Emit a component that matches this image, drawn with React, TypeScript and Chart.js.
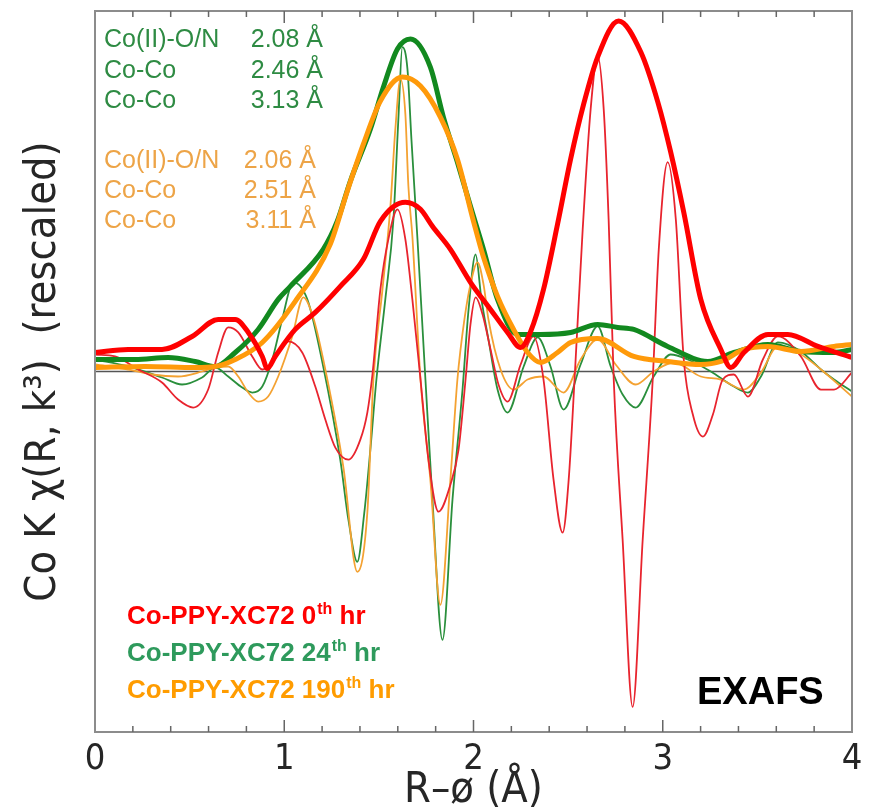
import React, { useEffect, useRef } from "react";
import { Chart, registerables } from "chart.js";

Chart.register(...registerables);

// ---- Data (R in Å, χ in rescaled arbitrary units) ----
// |χ(R)| magnitude, 0th hr (thick red)
const R_MAG_0H = [0, 0.175, 0.354, 0.513, 0.651, 0.741, 0.81, 0.884, 0.91, 0.952, 1.058, 1.164, 1.296, 1.418, 1.508, 1.64, 1.72, 1.783, 1.878, 1.984, 2.09, 2.18, 2.249, 2.302, 2.37, 2.444, 2.513, 2.582, 2.656, 2.767, 2.884, 2.974, 3.042, 3.111, 3.201, 3.307, 3.36, 3.429, 3.556, 3.661, 3.82, 4.0];
const MAG_0H = [0.19, 0.22, 0.22, 0.35, 0.52, 0.52, 0.39, 0.15, 0.03, 0.15, 0.42, 0.59, 0.85, 1.12, 1.5, 1.69, 1.62, 1.45, 1.22, 0.89, 0.62, 0.39, 0.24, 0.4, 0.82, 1.47, 2.12, 2.67, 3.14, 3.5, 3.19, 2.69, 2.19, 1.59, 0.72, 0.22, 0.04, 0.19, 0.37, 0.37, 0.25, 0.14];

// |χ(R)| magnitude, 24th hr (thick green)
const R_MAG_24H = [0, 0.212, 0.386, 0.529, 0.635, 0.741, 0.862, 0.968, 1.032, 1.206, 1.28, 1.349, 1.455, 1.524, 1.598, 1.667, 1.772, 1.841, 1.915, 1.984, 2.053, 2.127, 2.233, 2.354, 2.513, 2.656, 2.762, 2.847, 3.026, 3.238, 3.376, 3.556, 3.73, 3.905, 4.0];
const MAG_24H = [0.12, 0.12, 0.14, 0.1, 0.05, 0.19, 0.42, 0.72, 0.85, 1.22, 1.5, 1.9, 2.42, 2.84, 3.22, 3.32, 3.04, 2.54, 2.09, 1.65, 1.22, 0.72, 0.37, 0.37, 0.39, 0.47, 0.44, 0.42, 0.25, 0.1, 0.19, 0.27, 0.2, 0.19, 0.22];

// |χ(R)| magnitude, 190th hr (thick orange)
const R_MAG_190H = [0, 0.265, 0.529, 0.635, 0.741, 0.884, 1.058, 1.243, 1.333, 1.418, 1.508, 1.624, 1.72, 1.825, 1.915, 2.0, 2.053, 2.127, 2.212, 2.286, 2.354, 2.444, 2.513, 2.656, 2.847, 3.026, 3.201, 3.307, 3.429, 3.556, 3.73, 3.905, 4.0];
const MAG_190H = [0.04, 0.05, 0.04, 0.05, 0.12, 0.29, 0.7, 1.27, 1.8, 2.27, 2.7, 2.94, 2.85, 2.54, 2.12, 1.5, 1.14, 0.75, 0.42, 0.19, 0.09, 0.19, 0.29, 0.33, 0.15, 0.1, 0.07, 0.1, 0.22, 0.25, 0.2, 0.25, 0.27];

// Re χ(R), 0th hr (thin red)
const R_RE_0H = [0, 0.106, 0.228, 0.354, 0.439, 0.519, 0.598, 0.651, 0.704, 0.757, 0.831, 0.884, 0.937, 1.021, 1.095, 1.164, 1.217, 1.27, 1.339, 1.402, 1.439, 1.466, 1.508, 1.55, 1.598, 1.64, 1.677, 1.72, 1.762, 1.815, 1.878, 1.921, 1.958, 1.984, 2.011, 2.048, 2.09, 2.132, 2.18, 2.249, 2.317, 2.37, 2.423, 2.471, 2.503, 2.534, 2.577, 2.619, 2.656, 2.688, 2.714, 2.741, 2.788, 2.841, 2.894, 2.947, 2.979, 3.026, 3.069, 3.111, 3.159, 3.212, 3.265, 3.317, 3.376, 3.45, 3.529, 3.608, 3.73, 3.836, 3.905, 4.0];
const RE_0H = [0.17, 0.15, 0.02, -0.11, -0.28, -0.36, -0.18, 0.19, 0.44, 0.39, 0.15, 0.02, 0.09, 0.3, 0.19, -0.15, -0.48, -0.76, -0.88, -0.68, -0.41, -0.03, 0.82, 1.32, 1.62, 1.32, 0.72, -0.08, -0.88, -1.4, -1.13, -0.78, -0.08, 0.47, 0.74, 0.57, 0.22, -0.13, -0.3, 0.07, 0.35, -0.08, -1.08, -1.61, -1.08, -0.08, 1.42, 2.62, 3.15, 2.62, 1.52, -0.08, -1.68, -3.35, -1.68, -0.08, 1.22, 2.09, 1.52, 0.12, -0.43, -0.65, -0.43, -0.08, -0.03, -0.25, 0.12, 0.35, 0.15, -0.18, -0.18, -0.01];

// Re χ(R), 24th hr (thin green)
const R_RE_24H = [0, 0.175, 0.354, 0.46, 0.566, 0.635, 0.704, 0.778, 0.831, 0.884, 0.937, 0.989, 1.048, 1.122, 1.206, 1.296, 1.339, 1.386, 1.423, 1.455, 1.487, 1.534, 1.577, 1.603, 1.624, 1.651, 1.672, 1.704, 1.746, 1.783, 1.836, 1.889, 1.942, 1.974, 2.011, 2.042, 2.079, 2.127, 2.18, 2.265, 2.339, 2.407, 2.476, 2.566, 2.656, 2.725, 2.788, 2.857, 2.952, 3.042, 3.132, 3.254, 3.376, 3.45, 3.519, 3.608, 3.73, 3.836, 3.905, 4.0];
const RE_24H = [0.12, 0.05, -0.06, -0.13, -0.06, 0.04, -0.05, -0.16, -0.21, -0.15, 0.12, 0.52, 0.89, 0.72, 0.05, -0.88, -1.48, -1.9, -1.41, -0.78, -0.08, 0.72, 1.52, 2.52, 3.24, 3.02, 2.32, 1.32, -0.08, -1.28, -2.68, -1.28, -0.18, 0.62, 1.17, 0.72, 0.32, -0.18, -0.41, 0.05, 0.34, 0.05, -0.38, 0.07, 0.45, 0.05, -0.23, -0.36, -0.05, 0.17, 0.12, 0.0, -0.15, -0.21, -0.05, 0.29, 0.2, 0.02, -0.08, -0.2];

// Re χ(R), 190th hr (thin orange)
const R_RE_190H = [0, 0.175, 0.302, 0.439, 0.566, 0.635, 0.704, 0.757, 0.81, 0.862, 0.915, 0.968, 1.042, 1.101, 1.153, 1.206, 1.312, 1.386, 1.439, 1.471, 1.519, 1.561, 1.587, 1.614, 1.64, 1.656, 1.677, 1.72, 1.772, 1.825, 1.878, 1.915, 1.952, 1.984, 2.021, 2.053, 2.079, 2.143, 2.212, 2.286, 2.37, 2.476, 2.566, 2.656, 2.751, 2.857, 2.952, 3.058, 3.201, 3.307, 3.429, 3.519, 3.608, 3.73, 3.836, 4.0];
const RE_190H = [0.07, 0.02, -0.03, -0.05, 0.0, 0.04, 0.05, -0.05, -0.21, -0.3, -0.25, -0.05, 0.35, 0.74, 0.54, 0.12, -0.95, -2.0, -1.41, -0.08, 0.82, 1.65, 2.42, 2.92, 2.57, 1.85, 1.35, -0.08, -1.08, -2.33, -1.08, -0.08, 0.52, 0.87, 1.09, 0.87, 0.52, 0.02, -0.18, -0.08, -0.05, -0.21, 0.12, 0.32, 0.07, -0.13, 0.0, 0.09, -0.05, -0.08, -0.18, -0.01, 0.25, 0.17, 0.02, -0.25];

// ---- Axes / text ----
const X_MIN = 0;
const X_MAX = 4;
const Y_MIN = -3.6;
const Y_MAX = 3.6;
const X_MAJOR_STEP = 1;
const X_MINOR_STEP = 0.2;
const X_TITLE = "R\u2013\u00f8 (\u00c5)";
const Y_TITLE = "Co K \u03c7(R, k\u00b3)  (rescaled)";

const FIT_LABELS = ["Co(II)-O/N", "Co-Co", "Co-Co"];
const FIT_24H = ["2.08 \u00c5", "2.46 \u00c5", "3.13 \u00c5"];
const FIT_190H = ["2.06 \u00c5", "2.51 \u00c5", "3.11 \u00c5"];

const SAMPLE_NAME = "Co-PPY-XC72";
const SAMPLE_HOURS = ["0", "24", "190"];
const HOUR_SUFFIX = "th";
const HOUR_UNIT = "hr";
const PANEL_LABEL = "EXAFS";

// ---- Styles ----
const RED = "#ff0000";
const RED_THIN = "#e8242e";
const GREEN = "#12891f";
const GREEN_THIN = "#2a8f3c";
const ORANGE = "#ff9a0a";
const ORANGE_THIN = "#f4a232";
const GREEN_TEXT = "#2e8b43";
const ORANGE_TEXT = "#eda447";
const LEGEND_COLORS = ["#ff0000", "#2e9a5c", "#ff9c00"];
const AXIS_FONT = "'DejaVu Sans Condensed', sans-serif";
const TEXT_FONT = "'Liberation Sans', Arial, sans-serif";

const pts = (xs: number[], ys: number[]) => xs.map((x, i) => ({ x, y: ys[i] }));

const decorPlugin = {
  id: "decor",
  beforeDatasetsDraw(chart: any) {
    const { ctx, chartArea } = chart;
    const y0 = chart.scales.y.getPixelForValue(0);
    ctx.save();
    ctx.strokeStyle = "#555";
    ctx.lineWidth = 1.3;
    ctx.beginPath();
    ctx.moveTo(chartArea.left, y0);
    ctx.lineTo(chartArea.right, y0);
    ctx.stroke();
    ctx.restore();
  },
  afterDatasetsDraw(chart: any) {
    const { ctx, chartArea } = chart;
    const xs = chart.scales.x;
    const { left, right, top, bottom } = chartArea;
    ctx.save();
    // frame
    ctx.strokeStyle = "#8c8c8c";
    ctx.lineWidth = 2;
    ctx.strokeRect(left, top, right - left, bottom - top);
    // inward ticks top and bottom
    ctx.strokeStyle = "#666";
    ctx.lineWidth = 1.5;
    const n = Math.round((X_MAX - X_MIN) / X_MINOR_STEP);
    for (let i = 1; i < n; i++) {
      const v = X_MIN + i * X_MINOR_STEP;
      const px = xs.getPixelForValue(v);
      const major = Math.abs(v / X_MAJOR_STEP - Math.round(v / X_MAJOR_STEP)) < 1e-6;
      const len = major ? 12 : 6;
      ctx.beginPath();
      ctx.moveTo(px, top);
      ctx.lineTo(px, top + len);
      ctx.moveTo(px, bottom);
      ctx.lineTo(px, bottom - len);
      ctx.stroke();
    }
    // fit annotations
    ctx.textBaseline = "alphabetic";
    ctx.font = `25px ${TEXT_FONT}`;
    const greenBase = [47, 78, 108];
    const orangeBase = [168, 198, 228];
    FIT_LABELS.forEach((lab, i) => {
      ctx.fillStyle = GREEN_TEXT;
      ctx.textAlign = "left";
      ctx.fillText(lab, left + 9, greenBase[i]);
      ctx.textAlign = "right";
      ctx.fillText(FIT_24H[i], 323, greenBase[i]);
      ctx.fillStyle = ORANGE_TEXT;
      ctx.textAlign = "left";
      ctx.fillText(lab, left + 9, orangeBase[i]);
      ctx.textAlign = "right";
      ctx.fillText(FIT_190H[i], 316, orangeBase[i]);
    });
    // sample legend
    const legBase = [624, 661, 698];
    SAMPLE_HOURS.forEach((h, i) => {
      ctx.fillStyle = LEGEND_COLORS[i];
      ctx.textAlign = "left";
      ctx.font = `bold 26px ${TEXT_FONT}`;
      let x = 127;
      const main = `${SAMPLE_NAME} ${h}`;
      ctx.fillText(main, x, legBase[i]);
      x += ctx.measureText(main).width;
      ctx.font = `bold 16px ${TEXT_FONT}`;
      ctx.fillText(HOUR_SUFFIX, x + 1, legBase[i] - 10);
      x += ctx.measureText(HOUR_SUFFIX).width + 1;
      ctx.font = `bold 26px ${TEXT_FONT}`;
      ctx.fillText(` ${HOUR_UNIT}`, x, legBase[i]);
    });
    // panel label
    ctx.fillStyle = "#000";
    ctx.font = `bold 38px ${TEXT_FONT}`;
    ctx.textAlign = "left";
    ctx.fillText(PANEL_LABEL, 697, 704);
    ctx.restore();
  },
};

export default function App() {
  const ref = useRef<HTMLCanvasElement | null>(null);
  useEffect(() => {
    if (!ref.current) return;
    const thick = (label: string, xs: number[], ys: number[], color: string) => ({
      label,
      data: pts(xs, ys),
      borderColor: color,
      borderWidth: 5,
      pointRadius: 0,
      fill: false,
      cubicInterpolationMode: "monotone" as const,
    });
    const thin = (label: string, xs: number[], ys: number[], color: string) => ({
      label,
      data: pts(xs, ys),
      borderColor: color,
      borderWidth: 1.8,
      pointRadius: 0,
      fill: false,
      cubicInterpolationMode: "monotone" as const,
    });
    const chart = new Chart(ref.current, {
      type: "line",
      data: {
        datasets: [
          thick("|χ| 0th hr", R_MAG_0H, MAG_0H, RED),
          thick("|χ| 190th hr", R_MAG_190H, MAG_190H, ORANGE),
          thick("|χ| 24th hr", R_MAG_24H, MAG_24H, GREEN),
          thin("Re χ 0th hr", R_RE_0H, RE_0H, RED_THIN),
          thin("Re χ 190th hr", R_RE_190H, RE_190H, ORANGE_THIN),
          thin("Re χ 24th hr", R_RE_24H, RE_24H, GREEN_THIN),
        ],
      },
      options: {
        responsive: false,
        animation: false,
        events: [],
        layout: { padding: { top: 11, right: 19, left: 0, bottom: 0 } },
        plugins: { legend: { display: false }, tooltip: { enabled: false } },
        scales: {
          x: {
            type: "linear",
            min: X_MIN,
            max: X_MAX,
            grid: { display: false },
            border: { display: false },
            ticks: {
              stepSize: X_MAJOR_STEP,
              color: "#262626",
              font: { family: AXIS_FONT, size: 36, lineHeight: 1 },
              padding: 2,
              maxRotation: 0,
            },
            title: {
              display: true,
              text: X_TITLE,
              color: "#262626",
              font: { family: AXIS_FONT, size: 43, lineHeight: 1 },
              padding: { top: 0, bottom: -1 },
            },
            afterFit: (s: any) => {
              s.height = 79;
            },
          },
          y: {
            type: "linear",
            min: Y_MIN,
            max: Y_MAX,
            grid: { display: false },
            border: { display: false },
            ticks: { display: false },
            title: {
              display: true,
              text: Y_TITLE,
              color: "#262626",
              font: { family: AXIS_FONT, size: 43, lineHeight: 1 },
              padding: { top: 22, bottom: 0 },
            },
            afterFit: (s: any) => {
              s.width = 95;
            },
          },
        },
      },
      plugins: [decorPlugin],
    });
    return () => chart.destroy();
  }, []);
  return (
    <div style={{ position: "fixed", left: 0, top: 0, width: 871, height: 811, background: "#fff" }}>
      <canvas ref={ref} width={871} height={811} style={{ width: 871, height: 811, display: "block" }} />
    </div>
  );
}
